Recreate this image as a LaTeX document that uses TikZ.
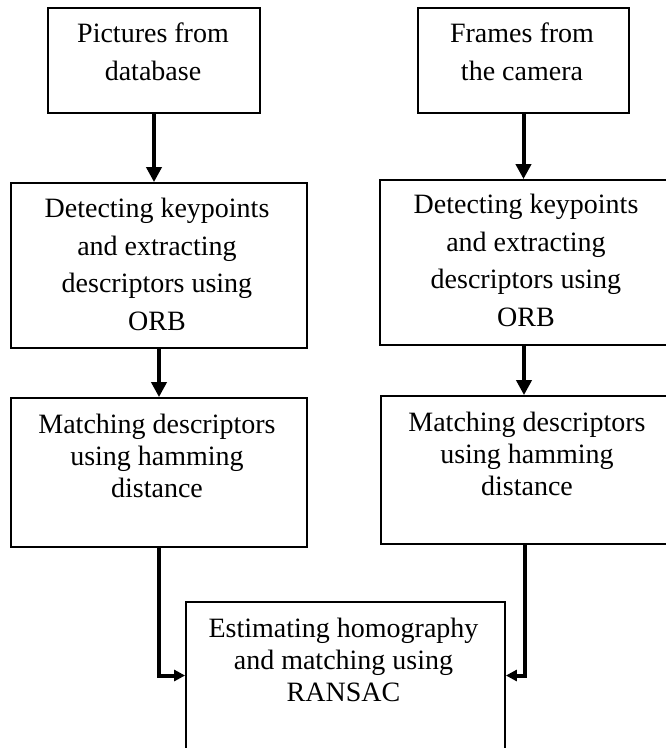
\documentclass[tikz,border=0pt]{standalone}
\usepackage{fontspec}
\setmainfont{Liberation Serif}
\usetikzlibrary{arrows.meta}
\begin{document}
\begin{tikzpicture}[x=1pt,y=-1pt,
  stagebox/.style={draw=black, line width=1.8pt, fill=white, inner sep=0pt},
  widetext/.style={align=center, inner sep=0pt, anchor=north,
    font=\fontsize{28}{37.5}\selectfont},
  tighttext/.style={align=center, inner sep=0pt, anchor=north,
    font=\fontsize{28}{32}\selectfont},
  flow/.style={line width=4pt, -{Triangle[length=15pt,width=15pt]}},
  sideflow/.style={line width=4pt, -{Triangle[length=11pt,width=11pt]}}
]
\useasboundingbox (0,0) rectangle (666,748);

% process boxes
\node[stagebox, minimum width=212pt, minimum height=105pt] (a) at (154,60.5) {};
\node[stagebox, minimum width=211pt, minimum height=105pt] (b) at (523.5,60.5) {};
\node[stagebox, minimum width=296pt, minimum height=165pt] (c) at (159,265.5) {};
\node[stagebox, minimum width=288pt, minimum height=165pt] (d) at (524,262.5) {};
\node[stagebox, minimum width=296pt, minimum height=149pt] (e) at (159,472.5) {};
\node[stagebox, minimum width=287pt, minimum height=148pt] (f) at (524.5,470) {};
\node[stagebox, minimum width=319pt, minimum height=147pt] (g) at (345.5,675.5) {};

% box captions
\node[widetext] (at) at (153,23) {Pictures from\\database};
\node[widetext] (bt) at (522,23) {Frames from\\the camera};
\node[widetext] (ct) at (157,198) {Detecting keypoints\\and extracting\\descriptors using\\ORB};
\node[widetext] (dt) at (526,194) {Detecting keypoints\\and extracting\\descriptors using\\ORB};
\node[tighttext] (et) at (157,414) {Matching descriptors\\using hamming\\distance};
\node[tighttext] (ft) at (527,412) {Matching descriptors\\using hamming\\distance};
\node[tighttext] (gt) at (343.5,618) {Estimating homography\\and matching using\\RANSAC};

% connectors
\draw[flow] (a.south) -- (a.south |- c.north);
\draw[flow] (b.south) -- (b.south |- d.north);
\draw[flow] (c.south) -- (c.south |- e.north);
\draw[flow] (d.south) -- (d.south |- f.north);
\draw[sideflow] (e.south) |- (g.west);
\draw[sideflow] (f.south) |- (g.east);
\end{tikzpicture}
\end{document}
